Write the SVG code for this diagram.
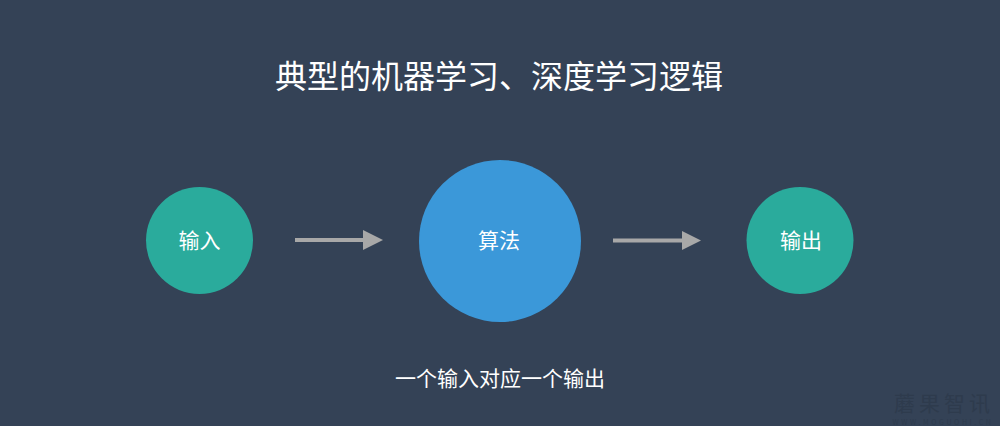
<svg xmlns="http://www.w3.org/2000/svg" width="1000" height="426" viewBox="0 0 1000 426">
<style>
text{font-family:"Noto Sans CJK SC","Noto Sans",sans-serif;fill:#ffffff;text-anchor:middle}
.node text{font-size:21px}
.teal{fill:#2aab9c}
.blue{fill:#3b98d9}
.conn line{stroke:#a8a8a8;stroke-width:4}
.head{fill:#a8a8a8}
.wm{fill:#2e3b4d}
</style>
<rect x="0" y="0" width="1000" height="426" fill="#344256"/>
<text id="title" x="499" y="88" style="font-size:32px">典型的机器学习、深度学习逻辑</text>
<g id="node-input" class="node">
<circle class="teal" cx="199.5" cy="240.5" r="53.5"/>
<text x="199.5" y="248">输入</text>
</g>
<g id="node-algo" class="node">
<circle class="blue" cx="500" cy="241" r="81"/>
<text x="499" y="248">算法</text>
</g>
<g id="node-output" class="node">
<circle class="teal" cx="800" cy="240.5" r="53.5"/>
<text x="801" y="248">输出</text>
</g>
<g id="connectors" class="conn">
<line x1="295" y1="240" x2="365" y2="240"/>
<polygon class="head" points="363,230 383,240 363,250"/>
<line x1="613" y1="240.5" x2="684" y2="240.5"/>
<polygon class="head" points="682,231 701,240.5 682,250"/>
</g>
<text id="caption" x="500" y="386" style="font-size:21px">一个输入对应一个输出</text>
<g id="watermark">
<text class="wm" x="944" y="411" style="font-size:21px;letter-spacing:4px">蘑果智讯</text>
<text class="wm" x="943" y="424.5" style="font-size:7px;letter-spacing:2.6px">WWW.MOGUOHI.CN</text>
</g>
</svg>
